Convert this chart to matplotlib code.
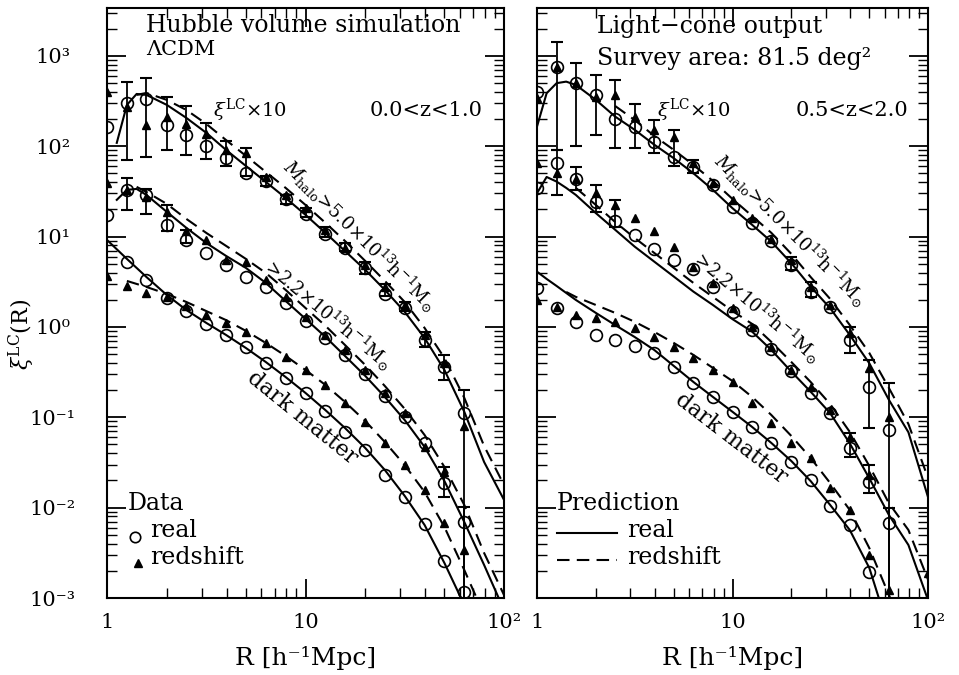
import numpy as np
import matplotlib
matplotlib.use('Agg')
import matplotlib.pyplot as plt
from matplotlib.ticker import FixedLocator, FixedFormatter, LogLocator, NullFormatter

plt.rcParams['font.family'] = 'DejaVu Serif'
plt.rcParams['mathtext.fontset'] = 'dejavuserif'

# 0.1 dex bins in R [h^-1 Mpc]
R_bins = [1.0, 1.26, 1.58, 2.0, 2.51, 3.16, 3.98, 5.01, 6.31, 7.94,
          10.0, 12.6, 15.8, 20.0, 25.1, 31.6, 39.8, 50.1, 63.1]
R_line = [1.0, 1.12, 1.26, 1.41, 1.58, 2.0, 2.51, 3.16, 3.98, 5.01, 6.31, 7.94,
          10.0, 12.6, 15.8, 20.0, 25.1, 31.6, 39.8, 50.1, 63.1, 79.4, 100.0]

# ---------------- left panel: Hubble volume, 0<z<1 ----------------
L_top_real = [165, 299, 332, 172, 133, 101, 73.6, 50.2, 41.7, 25.9, 17.8, 10.7,
              7.43, 4.47, 2.32, 1.61, 0.718, 0.364, 0.111]
L_top_red = [403, 275, 172, 213, 177, 137, 91, 83.8, 46.1, 28.9, 20.8, 11.9,
             7.48, 4.85, 2.79, 1.75, 0.815, 0.396, 0.0802]
L_mid_real = [17.4, 32.9, 28.9, 13.5, 9.18, 6.55, 4.85, 3.61, 2.79, 1.83, 1.15,
              0.75, 0.49, 0.302, 0.172, 0.102, 0.0515, 0.0187, 0.0070]
L_mid_red = [39, 32.9, 27.7, 18.9, 11.4, 9.18, 5.52, 5.28, 3.31, 2.16, 1.30,
             0.815, 0.556, 0.334, 0.187, 0.111, 0.0473, 0.025, 0.0034]
L_dm_real = [5.28, 3.29, 2.11, 1.50, 1.09, 0.815, 0.593, 0.396, 0.270, 0.184,
             0.118, 0.0693, 0.0435, 0.023, 0.013, 0.00659, 0.00259, 0.00116]
L_dm_red = [3.66, 2.84, 2.40, 2.16, 1.71, 1.36, 1.10, 0.887, 0.659, 0.469, 0.334,
            0.228, 0.143, 0.0893, 0.0515, 0.0296, 0.0157, 0.00676]

L_top_pred_real = [109, 287, 379, 370, 287, 206, 141, 91, 60.5, 40.3, 26.8, 17.4,
                   11.0, 6.93, 4.28, 2.57, 1.47, 0.755, 0.334, 0.115, 0.032, 0.0122]
L_top_pred_red = [370, 389, 326, 252, 177, 117, 78.2, 52, 34.6, 22.4, 14.2, 8.95,
                  5.37, 3.23, 1.89, 0.975, 0.454, 0.164, 0.0481, 0.0178]
L_mid_pred_real = [25.5, 32.9, 33.7, 28.9, 18.8, 12.5, 8.51, 6.11, 4.50, 3.07, 1.94,
                   1.23, 0.776, 0.478, 0.287, 0.168, 0.0933, 0.047, 0.0197, 0.00693,
                   0.00232, 0.000736]
L_mid_pred_red = [35.5, 31.2, 23, 15.7, 11.0, 7.89, 5.66, 3.96, 2.57, 1.62, 1.03,
                  0.632, 0.379, 0.222, 0.124, 0.0637, 0.0282, 0.0107, 0.00315, 0.00108]
L_dm_pred_real = [9.18, 5.66, 3.57, 2.26, 1.54, 1.11, 0.815, 0.585, 0.409, 0.279,
                  0.186, 0.12, 0.0762, 0.0457, 0.0261, 0.0135, 0.00643, 0.00244, 0.000836]
L_dm_pred_red = [3.23, 2.77, 2.32, 1.89, 1.50, 1.19, 0.904, 0.665, 0.478, 0.334,
                 0.228, 0.148, 0.091, 0.0533, 0.0296, 0.0149, 0.00611, 0.00204, 0.000649]

# error bars (R, lower, upper)
L_err_R = [1.26, 1.58, 2.0, 2.51, 3.16, 3.98, 5.01, 6.31, 7.94, 10.0, 12.6, 15.8,
           20.0, 25.1, 31.6, 39.8, 50.1, 63.1,
           1.26, 1.58, 2.0, 2.51, 50.1, 63.1]
L_err_lo = [70.6, 76.7, 91, 80.2, 72.4, 60.5, 47, 36.6, 23, 16.5, 10, 7.0,
            3.86, 2.2, 1.5, 0.605, 0.259, 1e-4,
            19.7, 17.8, 11.4, 8.51, 0.013, 1e-4]
L_err_hi = [520, 566, 352, 279, 181, 115, 95.9, 47.3, 29, 20.5, 12.8, 8.4,
            5.28, 3.0, 1.9, 0.887, 0.49, 0.2,
            44.3, 33.7, 22.4, 11.9, 0.0284, 0.0102]

# ---------------- right panel: light-cone, 0.5<z<2 ----------------
R_top_real = [403, 762, 499, 370, 199, 163, 112, 76.7, 59.4, 37.3, 21.5, 14.3,
              9.02, 4.85, 2.46, 1.68, 0.718, 0.218, 0.0724]
R_top_red = [340, 762, 499, 354, 370, 213, 152, 128, 64.9, 39, 25.5, 16, 9.35,
             5.52, 2.79, 1.75, 0.851, 0.349, 0.102, 0.00189]
R_mid_real = [34.3, 64.9, 43.2, 24.4, 14.7, 10.4, 7.24, 5.52, 4.36, 2.79, 1.45,
              0.927, 0.566, 0.328, 0.185, 0.111, 0.0454, 0.0194, 0.00671]
R_mid_red = [64.9, 50.2, 43.2, 30.2, 22.4, 16, 11.4, 7.74, 4.65, 3.05, 1.61, 1.01,
             0.605, 0.334, 0.218, 0.12, 0.061, 0.023, 0.00122]
R_dm_real = [2.68, 1.61, 1.12, 0.815, 0.718, 0.617, 0.512, 0.363, 0.238, 0.169,
             0.113, 0.0787, 0.0515, 0.0323, 0.0202, 0.0103, 0.00643, 0.00195]
R_dm_red = [1.99, 1.68, 1.36, 1.25, 1.12, 0.966, 0.78, 0.605, 0.45, 0.334, 0.248,
            0.143, 0.0859, 0.0526, 0.0355, 0.0164, 0.00942, 0.00299]

R_top_pred_real = [165, 386, 499, 519, 477, 326, 213, 152, 104, 73.6, 50.2, 32.9,
                   20.6, 13.5, 8.79, 5.07, 2.79, 1.61, 0.815, 0.396, 0.156, 0.0683, 0.0131]
R_top_pred_red = [279, 195, 130, 91, 62.1, 41.3, 26.1, 16.9, 11, 6.43, 3.57, 2.04,
                  1.05, 0.515, 0.211, 0.0843, 0.0213]
R_mid_pred_real = [30.2, 45.7, 40.6, 34.6, 28.9, 18.2, 11.9, 7.74, 5.28, 3.61, 2.46,
                   1.75, 1.22, 0.887, 0.556, 0.32, 0.192, 0.111, 0.0515, 0.0211,
                   0.0083, 0.00386, 0.00095]
R_mid_pred_red = [34.6, 22.4, 14.5, 9.66, 6.59, 4.5, 3.07, 2.15, 1.5, 1.08, 0.682,
                  0.409, 0.246, 0.14, 0.0689, 0.0289, 0.0112, 0.00566, 0.0016]
R_dm_pred_real = [4.09, 3.4, 2.84, 2.38, 1.99, 1.43, 1.05, 0.774, 0.556, 0.37, 0.246,
                  0.168, 0.115, 0.0782, 0.052, 0.0328, 0.0197, 0.0107, 0.00566,
                  0.00215, 0.000443]
R_dm_pred_red = [2.44, 2.15, 1.75, 1.43, 1.14, 0.881, 0.665, 0.49, 0.352, 0.252,
                 0.168, 0.106, 0.0621, 0.0355, 0.0187, 0.00942, 0.00357, 0.00108, 0.000343]

R_err_R = [1.26, 1.58, 2.0, 2.51, 3.16, 3.98, 5.01, 6.31, 20.0, 25.1, 39.8, 50.1, 63.1,
           1.26, 1.58, 2.0, 2.51, 39.8, 50.1, 63.1]
R_err_lo = [91, 101, 133, 95.1, 95.1, 83.8, 60.5, 50.7, 4.28, 2.16, 0.512, 0.0755, 1e-4,
            28.9, 32.9, 18.8, 12.9, 0.0366, 0.0144, 1e-4]
R_err_hi = [1440, 830, 617, 542, 294, 195, 152, 70.6, 6.0, 3.17, 1.01, 0.432, 0.238,
            91, 59.4, 37.3, 25.5, 0.0665, 0.0296, 0.0099]

y_ticks = [1e-3, 1e-2, 1e-1, 1, 10, 100, 1000]
y_labels = ['10⁻³', '10⁻²', '10⁻¹', '10⁰', '10¹', '10²', '10³']
x_ticks = [1, 10, 100]
x_labels = ['1', '10', '10²']

mass_hi = r'$M_{\rm halo}$>5.0×10$^{13}$h$^{-1}$M$_{\odot}$'
mass_lo = r'>2.2×10$^{13}$h$^{-1}$M$_{\odot}$'
FS = 15     # general annotations
FS_T = 17   # long text lines (title, legend words)
FS_M = 13   # rotated mass labels


def draw_group(ax, Rs, ys, Rd, yd, Rc, yc, Rt, yt):
    ax.plot(Rs, ys, 'k-', lw=1.5, zorder=2)
    ax.plot(Rd, yd, 'k--', lw=1.5, dashes=(6, 3.5), zorder=2)
    ax.plot(Rc, yc, 'o', mfc='none', mec='k', mew=1.2, ms=8.5, zorder=3)
    ax.plot(Rt, yt, '^', color='k', ms=5.8, zorder=3)


def draw_err(ax, R, lo, hi):
    ax.vlines(R, lo, hi, colors='k', lw=1.3, zorder=3)
    ax.plot(R, lo, '_', color='k', ms=9, mew=1.5, zorder=3)
    ax.plot(R, hi, '_', color='k', ms=9, mew=1.5, zorder=3)


def setup_axes(ax, ylabels=True):
    ax.set_xscale('log')
    ax.set_yscale('log')
    ax.set_xlim(1, 100)
    ax.set_ylim(1e-3, 10 ** 3.53)
    ax.xaxis.set_major_locator(FixedLocator(x_ticks))
    ax.xaxis.set_major_formatter(FixedFormatter(x_labels))
    ax.yaxis.set_major_locator(FixedLocator(y_ticks))
    ax.yaxis.set_major_formatter(FixedFormatter(y_labels))
    ax.xaxis.set_minor_locator(LogLocator(base=10, subs=np.arange(2, 10)))
    ax.yaxis.set_minor_locator(LogLocator(base=10, subs=np.arange(2, 10), numticks=20))
    ax.xaxis.set_minor_formatter(NullFormatter())
    ax.yaxis.set_minor_formatter(NullFormatter())
    ax.tick_params(which='both', direction='in', top=True, right=True,
                   labelsize=15, labelleft=ylabels)
    ax.tick_params(which='major', length=14, width=1.3)
    ax.tick_params(which='minor', length=7, width=1.0)
    ax.tick_params(axis='x', which='major', pad=11)
    ax.tick_params(axis='y', which='major', pad=39)
    for lab in ax.get_yticklabels():
        lab.set_horizontalalignment('center')
    for sp in ax.spines.values():
        sp.set_linewidth(1.5)
    ax.set_xlabel('R [h⁻¹Mpc]', fontsize=18, labelpad=10)


fig = plt.figure(figsize=(9.59, 6.75), dpi=100)
axL = fig.add_axes([107 / 959, 77 / 675, 397 / 959, 590 / 675])
axR = fig.add_axes([537 / 959, 77 / 675, 391 / 959, 590 / 675])

# left panel
draw_group(axL, R_line[1:], L_top_pred_real, R_line[3:], L_top_pred_red,
           R_bins, L_top_real, R_bins, L_top_red)
draw_group(axL, R_line[1:], L_mid_pred_real, R_line[3:], L_mid_pred_red,
           R_bins, L_mid_real, R_bins, L_mid_red)
draw_group(axL, R_bins, L_dm_pred_real, R_bins[1:] + [79.4], L_dm_pred_red,
           R_bins[1:], L_dm_real, R_bins[:-1], L_dm_red)
draw_err(axL, L_err_R, L_err_lo, L_err_hi)

# right panel
draw_group(axR, R_line, R_top_pred_real, R_bins[4:] + [79.4, 100.0], R_top_pred_red,
           R_bins, R_top_real, R_bins + [100.0], R_top_red)
draw_group(axR, R_line, R_mid_pred_real, R_bins[2:] + [79.4, 100.0], R_mid_pred_red,
           R_bins, R_mid_real, R_bins, R_mid_red)
draw_group(axR, R_line[:21], R_dm_pred_real, R_line[3:22], R_dm_pred_red,
           R_bins[:-1], R_dm_real, R_bins[:-1], R_dm_red)
draw_err(axR, R_err_R, R_err_lo, R_err_hi)

setup_axes(axL, True)
setup_axes(axR, False)

# left annotations
axL.text(0.098, 0.971, 'Hubble volume simulation', transform=axL.transAxes,
         fontsize=FS_T, va='center')
axL.text(0.098, 0.929, 'ΛCDM', transform=axL.transAxes, fontsize=FS, va='center')
axL.text(0.267, 0.827, r'$\xi^{\rm LC}$×10', transform=axL.transAxes, fontsize=14, va='center')
axL.text(0.945, 0.827, '0.0<z<1.0', transform=axL.transAxes, fontsize=FS,
         va='center', ha='right')
axL.text(0.637, 0.615, mass_hi, transform=axL.transAxes, fontsize=FS_M, rotation=-44.6,
         rotation_mode='anchor', ha='center', va='center')
axL.text(0.557, 0.48, mass_lo, transform=axL.transAxes, fontsize=FS_M, rotation=-40,
         rotation_mode='anchor', ha='center', va='center')
axL.text(0.491, 0.305, 'dark matter', transform=axL.transAxes, fontsize=FS_T - 1,
         rotation=-39, rotation_mode='anchor', ha='center', va='center')
axL.text(0.053, 0.161, 'Data', transform=axL.transAxes, fontsize=FS_T, va='center')
axL.plot([0.0705], [0.103], 'o', mfc='none', mec='k', mew=1.2, ms=7.5,
         transform=axL.transAxes)
axL.text(0.108, 0.115, 'real', transform=axL.transAxes, fontsize=FS_T, va='center')
axL.plot([0.078], [0.059], '^', color='k', ms=5.8, transform=axL.transAxes)
axL.text(0.108, 0.069, 'redshift', transform=axL.transAxes, fontsize=FS_T, va='center')

# right annotations
axR.text(0.153, 0.968, 'Light−cone output', transform=axR.transAxes, fontsize=FS_T,
         va='center')
axR.text(0.153, 0.915, 'Survey area: 81.5 deg²', transform=axR.transAxes, fontsize=FS_T,
         va='center')
axR.text(0.307, 0.827, r'$\xi^{\rm LC}$×10', transform=axR.transAxes, fontsize=14, va='center')
axR.text(0.949, 0.827, '0.5<z<2.0', transform=axR.transAxes, fontsize=FS,
         va='center', ha='right')
axR.text(0.647, 0.624, mass_hi, transform=axR.transAxes, fontsize=FS_M, rotation=-45,
         rotation_mode='anchor', ha='center', va='center')
axR.text(0.563, 0.492, mass_lo, transform=axR.transAxes, fontsize=FS_M, rotation=-40.5,
         rotation_mode='anchor', ha='center', va='center')
axR.text(0.496, 0.271, 'dark matter', transform=axR.transAxes, fontsize=FS_T - 1,
         rotation=-37.5, rotation_mode='anchor', ha='center', va='center')
axR.text(0.051, 0.161, 'Prediction', transform=axR.transAxes, fontsize=FS_T, va='center')
axR.plot([0.051, 0.205], [0.110, 0.110], 'k-', lw=1.5, transform=axR.transAxes)
axR.text(0.23, 0.115, 'real', transform=axR.transAxes, fontsize=FS_T, va='center')
axR.plot([0.051, 0.205], [0.064, 0.064], 'k--', lw=1.5, dashes=(6, 3.5),
         transform=axR.transAxes)
axR.text(0.23, 0.069, 'redshift', transform=axR.transAxes, fontsize=FS_T, va='center')

fig.text(0.023, 0.505, r'$\xi^{\rm LC}$(R)', rotation=90, fontsize=16,
         ha='center', va='center')

fig.savefig('out.png', dpi=100)
